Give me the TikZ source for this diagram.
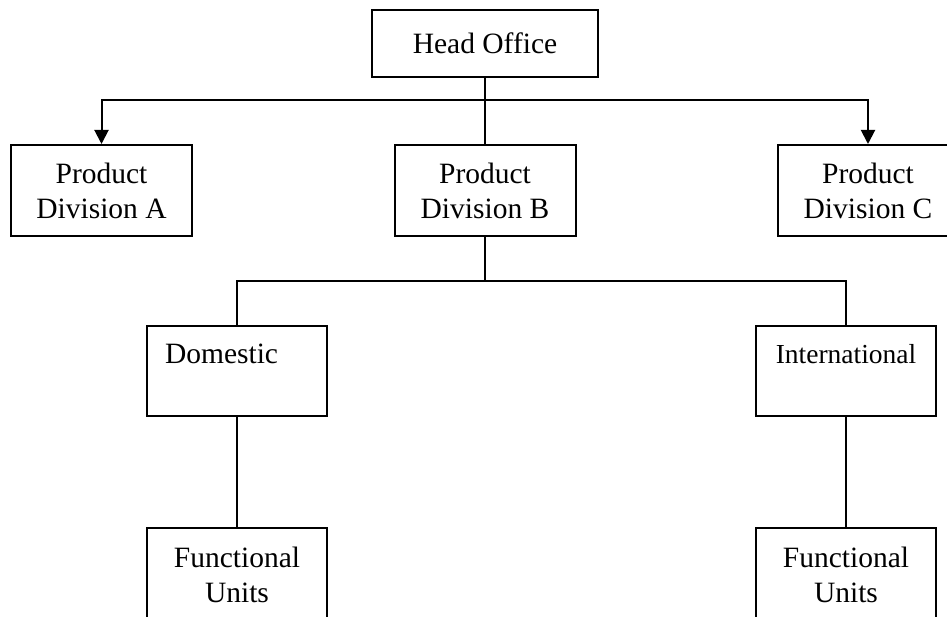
\documentclass[tikz,border=0pt]{standalone}
\usepackage{fontspec}
\setmainfont{Liberation Serif}
\usetikzlibrary{arrows.meta}
\providecommand\myxunit{.4pt}
\providecommand\myyunit{-.4pt}

\begin{document}
\begin{tikzpicture}[x=\myxunit, y=\myyunit, line width=.8pt]
  \tikzstyle{unit} = [rectangle, draw, inner sep=0pt, align=center,
                                    font=\fontsize{11.8}{14}\selectfont]
  \tikzstyle{division} = [unit, minimum width=72.4pt, minimum height=36.4pt]
  \tikzstyle{market} = [unit, minimum width=72pt, minimum height=36pt]
  \tikzstyle{func} = [unit, minimum width=72pt, minimum height=37.6pt]
  \tikzstyle{arr} = [-{Triangle[width=5.6pt, length=5.6pt]}]
\useasboundingbox (0,0) rectangle (947,617);
\clip (0,0) rectangle (947,617);
\node[unit, minimum width=90.4pt, minimum height=26.8pt](head) at (485,43.5){Head Office};
\node[division](divA) at (101.5,190.5){Product\\Division A};
\node[division](divB) at (485,190.5){Product\\Division B};
\node[division](divC) at (868,190.5){Product\\Division C};
\node[market, align=left, text width=57.6pt, inner xsep=7.2pt](dom) at (237,371){Domestic\\\mbox{}};
\node[market, font=\fontsize{11}{14}\selectfont](intl) at (846,371){International\\\mbox{}};
\node[func](funcA) at (237,575){Functional\\Units};
\node[func](funcB) at (846,575){Functional\\Units};
\coordinate (topbar) at (485,100);
\coordinate (midbar) at (485,281);
\draw (head) -- (divB);
\draw[arr] (topbar) -| (divA.north);
\draw[arr] (topbar) -| (divC.north);
\draw (divB) -- (midbar);
\draw (midbar) -| (dom.north);
\draw (midbar) -| (intl.north);
\draw (dom) -- (funcA);
\draw (intl) -- (funcB);
\end{tikzpicture}
\end{document}
